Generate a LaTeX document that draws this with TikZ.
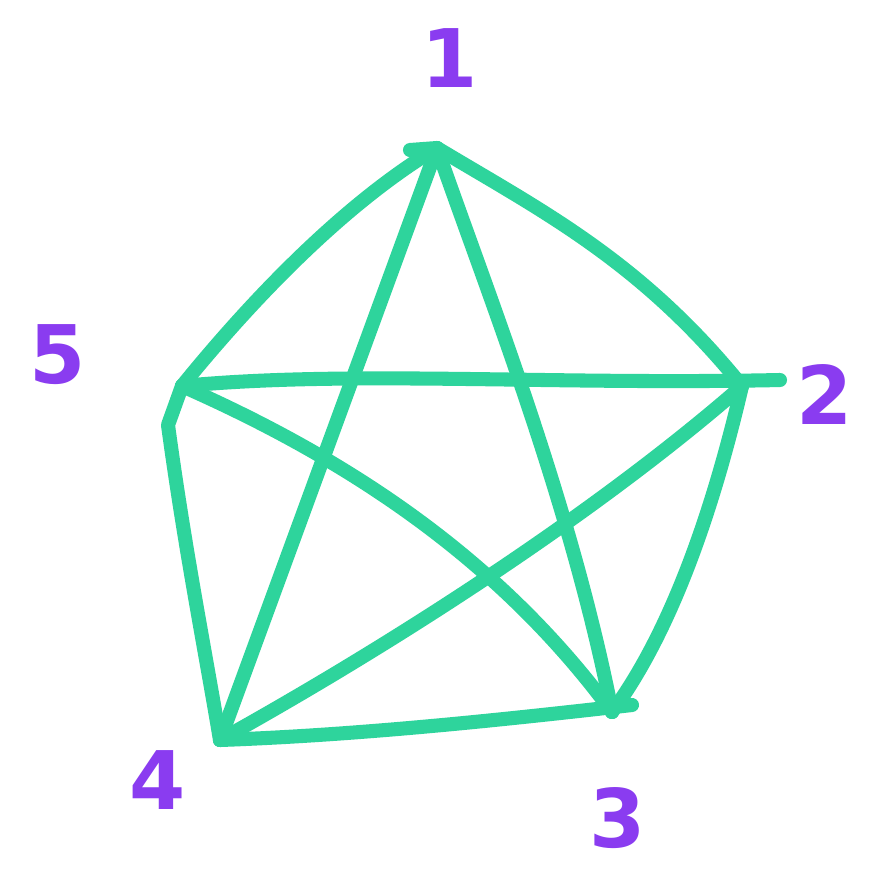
\documentclass[tikz,border=0pt]{standalone}
\usepackage{fontspec}
\setmainfont{DejaVu Sans}
\definecolor{edgegreen}{HTML}{2ED49C}
\definecolor{labelpurple}{HTML}{8A3CF0}
\begin{document}
\begin{tikzpicture}[x=0.02cm,y=-0.02cm,
  edge/.style={draw=edgegreen,line width=8pt,line cap=round,line join=round},
  vlabel/.style={text=labelpurple,font=\fontsize{46}{46}\selectfont\bfseries,inner sep=0pt}]
\useasboundingbox[fill=white] (0,0) rectangle (875,886);
\coordinate (v1) at (437,148);
\coordinate (v2) at (742,386);
\coordinate (v3) at (612,712);
\coordinate (v4) at (220,740);
\coordinate (v5) at (182,386);
\node[vlabel] (l1) at (450,58) {1};
\node[vlabel] (l2) at (825,395) {2};
\node[vlabel] (l3) at (618,818) {3};
\node[vlabel] (l4) at (158,780) {4};
\node[vlabel] (l5) at (58,355) {5};
% outer pentagon
\draw[edge] (410,150) -- (v1) .. controls (540,210) and (640,260) .. (v2);
\draw[edge] (v1) .. controls (350,200) and (260,290) .. (v5);
\draw[edge] (v5) -- (168,425) .. controls (185,550) and (205,650) .. (v4);
\draw[edge] (v4) .. controls (360,735) and (500,720) .. (632,705);
\draw[edge] (v2) .. controls (720,480) and (680,620) .. (v3);
% star
\draw[edge] (v5) .. controls (350,370) and (550,385) .. (780,380);
\draw[edge] (v1) -- (v4);
\draw[edge] (v1) .. controls (490,300) and (570,500) .. (v3);
\draw[edge] (v5) .. controls (350,460) and (500,560) .. (v3);
\draw[edge] (v4) .. controls (400,640) and (600,510) .. (v2);
\end{tikzpicture}
\end{document}
